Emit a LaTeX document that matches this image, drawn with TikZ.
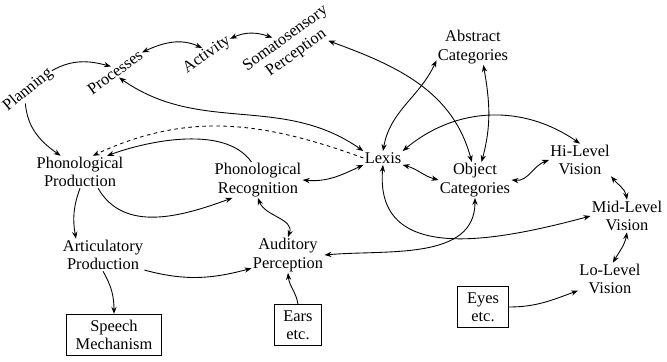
\documentclass[tikz,border=0pt]{standalone}
\usepackage{fontspec}
\setmainfont{Liberation Serif}
\usetikzlibrary{arrows.meta, positioning}
\tikzset{
  concept/.style={align=center, inner sep=1pt, font=\fontsize{14}{15.5}\selectfont},
  box/.style={concept, draw, line width=0.8pt, inner xsep=8pt, inner ysep=5pt},
  link/.style={line width=0.75pt, -{Stealth[length=6pt,width=4.5pt]}},
  both/.style={line width=0.75pt, {Stealth[length=6pt,width=4.5pt]}-{Stealth[length=6pt,width=4.5pt]}},
}
\begin{document}
\begin{tikzpicture}[x=0.03cm, y=0.03cm]
  \useasboundingbox (0,0) rectangle (667,-361);

  \node[concept, rotate=39] (planning) at (28,-90) {Planning};
  \node[concept, rotate=36] (processes) at (115,-72) {Processes};
  \node[concept, rotate=35] (activity) at (207,-55) {Activity};
  \node[concept, rotate=36] (soma) at (291,-46) {Somatosensory\\Perception};
  \node[concept] (abstract) at (473,-47) {Abstract\\Categories};
  \node[concept] (lexis) at (383,-158) {Lexis};
  \node[concept] (object) at (475,-180) {Object\\Categories};
  \node[concept] (hilevel) at (580,-160) {Hi-Level\\Vision};
  \node[concept] (midlevel) at (627,-216) {Mid-Level\\Vision};
  \node[concept] (lolevel) at (610,-279) {Lo-Level\\Vision};
  \node[concept] (phonprod) at (80,-172) {Phonological\\Production};
  \node[concept] (phonrec) at (258,-180) {Phonological\\Recognition};
  \node[concept] (artic) at (103,-255) {Articulatory\\Production};
  \node[concept] (audit) at (288,-255) {Auditory\\Perception};
  \node[box] (speech) at (114,-335) {Speech\\Mechanism};
  \node[box] (ears) at (298,-325) {Ears\\etc.};
  \node[box] (eyes) at (483,-307) {Eyes\\etc.};

  % top row
  \draw[link] (planning.east) to[out=30, in=165] (processes.north);
  \draw[both] (processes.east) to[out=25, in=155] (activity.north);
  \draw[both] (activity.east) to[out=25, in=160] (soma.120);
  \draw[link] (planning.-140) to[out=-85, in=145] (phonprod.140);
  \draw[both] (processes.south) to[out=-35, in=145] (lexis.north west);
  \draw[both] (soma.-28) to[out=-20, in=105] (object.100);

  % lexis and vision
  \draw[both] (abstract.200) to[out=-115, in=80] (lexis.north);
  \draw[both] (abstract.-60) to[out=-80, in=75] (object.70);
  \draw[both] (lexis.north east) to[out=40, in=145] (hilevel.north);
  \draw[both] (lexis.south east) to[out=-15, in=165] (object.west);
  \draw[both] (object.east) to[out=-5, in=200] (hilevel.west);
  \draw[both] (hilevel.south east) to[out=-50, in=100] (midlevel.north);
  \draw[both] (midlevel.south) to[out=-100, in=60] (lolevel.80);
  \draw[link] (eyes.east) to[out=0, in=200] (lolevel.200);
  \draw[both] (lexis.south) to[out=-95, in=195, looseness=1.2] (midlevel.west);
  \draw[both] (object.south) to[out=-90, in=5] (audit.east);

  % phonology
  \draw[link, dashed] (lexis.west) to[out=160, in=25] (phonprod.52);
  \draw[link] (phonrec.110) to[out=125, in=20, looseness=0.8] (phonprod.31);
  \draw[link] (phonprod.-42) to[out=-60, in=200] (phonrec.215);
  \draw[both] (phonrec.east) to[out=-5, in=205] (lexis.south west);
  \draw[link] (phonprod.south) to[out=-110, in=100] (artic.149);
  \draw[link] (artic.south) to[out=-60, in=90] (speech.north);
  \draw[link] (artic.-20) to[out=-15, in=195] (audit.200);
  \draw[link] (ears.north) to[out=100, in=-85] (audit.south);
  \draw[both] (audit.north) to[out=70, in=-70] (phonrec.south);
\end{tikzpicture}
\end{document}
